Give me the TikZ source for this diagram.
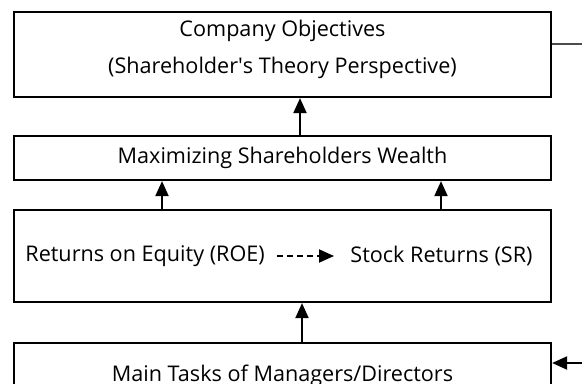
\documentclass[tikz,border=0pt]{standalone}
\usepackage{fontspec}
\setmainfont{Open Sans}
\usetikzlibrary{arrows.meta}
\begin{document}
\begin{tikzpicture}[x=0.5pt,y=-0.5pt,
    box/.style={draw, line width=1.1pt, minimum width=268.5pt, inner sep=0pt, font=\fontsize{10.8}{12}\selectfont},
    txt/.style={inner sep=0pt, font=\fontsize{10.8}{12}\selectfont},
    arr/.style={line width=1pt, -{Triangle[width=6.5pt,length=7.5pt]}}]
    \useasboundingbox (0,0) rectangle (582,384);
    \clip (0,0) rectangle (582,384);

    \node[box, minimum height=42.5pt] (obj) at (282.5,54.5) {};
    \node[txt] (objtop) at (282.5,31) {Company Objectives};
    \node[txt] (objbot) at (282.5,68) {(Shareholder\textquotesingle s Theory Perspective)};
    \node[box, minimum height=22pt] (max) at (282.5,158) {Maximizing Shareholders Wealth};
    \node[box, minimum height=46pt] (ret) at (282.5,256) {};
    \node[txt, anchor=west] (roe) at (25,256) {Returns on Equity (ROE)};
    \node[txt, anchor=west] (sr) at (350,256) {Stock Returns (SR)};
    \node[box, minimum height=32pt] (main) at (282.5,375) {};
    \node[txt] (maintxt) at (282.5,376) {Main Tasks of Managers/Directors};

    \coordinate (objout) at (582,44);
    \coordinate (mainin) at (582,363);

    \draw[arr] ([xshift=8.75pt]max.north) -- ([xshift=8.75pt]obj.south);
    \draw[arr] ([xshift=-60.25pt]ret.north) -- ([xshift=-60.25pt]max.south);
    \draw[arr] ([xshift=79.25pt]ret.north) -- ([xshift=79.25pt]max.south);
    \draw[arr, dash pattern=on 3pt off 2pt, shorten <=6pt, shorten >=8pt] (roe) -- (sr);
    \draw[arr] ([xshift=9.75pt]main.north) -- ([xshift=9.75pt]ret.south);
    \draw[line width=0.6pt, black!70] (obj.east |- objout) -- (objout);
    \draw[arr] (mainin) -- (main.east |- mainin);
\end{tikzpicture}
\end{document}
